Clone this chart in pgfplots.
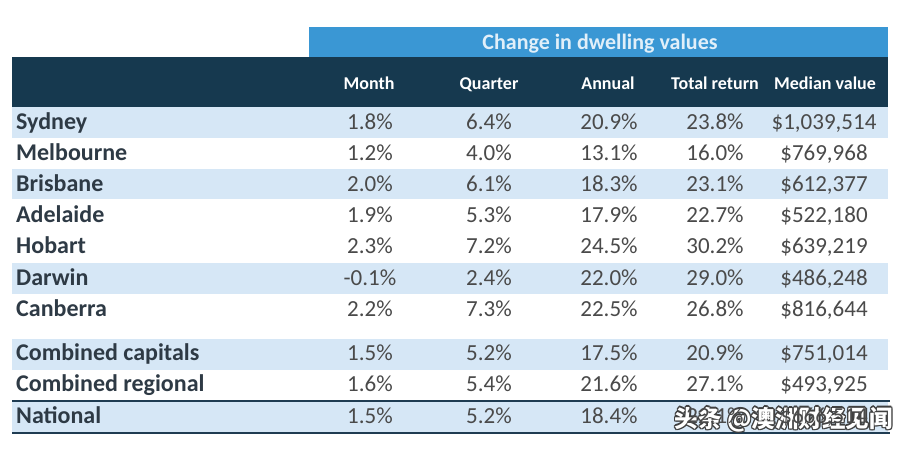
\documentclass[border=0pt]{standalone}
\usepackage{pgfplots}
\usepackage{pgfplotstable}
\pgfplotsset{compat=1.18}
\usepackage{fontspec}
\setmainfont{Carlito}
\newfontfamily\cjk{Noto Sans CJK SC}
\definecolor{banner}{HTML}{3A97D4}
\definecolor{header}{HTML}{16394F}
\definecolor{band}{HTML}{D6E7F6}
\definecolor{namec}{HTML}{2E3A45}
\definecolor{valc}{HTML}{4A4A4A}
\definecolor{rule}{HTML}{1F3C52}

\pgfplotstableread[col sep=semicolon]{
name;y;month;quarter;annual;total;median
Sydney;122;1.8;6.4;20.9;23.8;1,039,514
Melbourne;153;1.2;4.0;13.1;16.0;769,968
Brisbane;184;2.0;6.1;18.3;23.1;612,377
Adelaide;215;1.9;5.3;17.9;22.7;522,180
Hobart;246;2.3;7.2;24.5;30.2;639,219
Darwin;278;-0.1;2.4;22.0;29.0;486,248
Canberra;309;2.2;7.3;22.5;26.8;816,644
Combined capitals;353;1.5;5.2;17.5;20.9;751,014
Combined regional;384;1.6;5.4;21.6;27.1;493,925
National;416;1.5;5.2;18.4;22.1;666,514
}\data

\newcommand{\wm}{头条 @澳洲财经见闻}
\tikzset{wmk/.style={font=\cjk\bfseries\fontsize{23.5}{26}\selectfont, anchor=base east, inner sep=0pt}}

\begin{document}
\begin{tikzpicture}
\begin{axis}[
  width=902pt, height=450pt, scale only axis,
  xmin=0, xmax=902, ymin=0, ymax=450, y dir=reverse,
  enlargelimits=false, hide axis,
  /pgf/number format/assume math mode=true,
  txt/.style={only marks, mark=none, nodes near coords,
    every node near coord/.append style={anchor=base, inner sep=0pt}},
  pct/.style={txt, point meta=explicit,
    nodes near coords={\pgfmathprintnumber[fixed,fixed zerofill,precision=1]{\pgfplotspointmeta}\%},
    every node near coord/.append style={yshift=-7.5pt, font=\fontsize{23}{26}\selectfont, text=valc}},
]
% background
\addplot[fill=white, draw=none] coordinates {(0,0) (902,0) (902,450) (0,450)};
% banner and header
\addplot[fill=banner, draw=none] coordinates {(309,27) (888,27) (888,57) (309,57)};
\addplot[fill=header, draw=none] coordinates {(12,57) (888,57) (888,106.5) (12,106.5)};
% row bands
\addplot[fill=band, draw=none] coordinates {(12,107) (888,107) (888,137.5) (12,137.5)};
\addplot[fill=band, draw=none] coordinates {(12,168.5) (888,168.5) (888,199) (12,199)};
\addplot[fill=band, draw=none] coordinates {(12,263) (888,263) (888,293.5) (12,293.5)};
\addplot[fill=band, draw=none] coordinates {(12,339) (888,339) (888,369.5) (12,369.5)};
\addplot[fill=band, draw=none] coordinates {(12,401) (888,401) (888,432) (12,432)};
% rules
\addplot[draw=rule, line width=2pt] coordinates {(12,401) (890,401)};
\addplot[draw=rule, line width=2pt] coordinates {(12,432.5) (890,432.5)};
% banner title
\addplot[txt, point meta=explicit symbolic,
  every node near coord/.append style={yshift=-7pt, font=\bfseries\fontsize{22}{26}\selectfont, text=white!85!banner}]
  coordinates {(600,42) [Change in dwelling values]};
% column headers
\addplot[txt, point meta=explicit symbolic,
  every node near coord/.append style={yshift=-6pt, font=\bfseries\fontsize{18}{21}\selectfont, text=white}]
  coordinates {(369,83) [Month] (489,83) [Quarter] (608,83) [Annual] (715,83) [Total return] (825,83) [Median value]};
% row names
\addplot[txt, point meta=explicit symbolic,
  every node near coord/.append style={anchor=base west, yshift=-7.5pt, font=\bfseries\fontsize{24}{27}\selectfont, text=namec}]
  table[x expr=16, y=y, meta=name] {\data};
% values
\addplot[pct] table[x expr=370, y=y, meta=month] {\data};
\addplot[pct] table[x expr=489, y=y, meta=quarter] {\data};
\addplot[pct] table[x expr=609, y=y, meta=annual] {\data};
\addplot[pct] table[x expr=715, y=y, meta=total] {\data};
\addplot[txt, point meta=explicit symbolic, nodes near coords={\$\pgfplotspointmeta},
  every node near coord/.append style={yshift=-7.5pt, font=\fontsize{23}{26}\selectfont, text=valc}]
  table[x expr=824, y=y, meta=median] {\data};
% watermark
\node[wmk, text=black!75] at ([xshift=-1pt,yshift=-1pt]axis cs:893,427) {\wm};
\node[wmk, text=black!75] at ([xshift=-1pt,yshift=1pt]axis cs:893,427) {\wm};
\node[wmk, text=black!75] at ([xshift=1pt,yshift=-1pt]axis cs:893,427) {\wm};
\node[wmk, text=black!75] at ([xshift=1pt,yshift=1pt]axis cs:893,427) {\wm};
\node[wmk, text=black!75] at ([xshift=-1.2pt]axis cs:893,427) {\wm};
\node[wmk, text=black!75] at ([xshift=1.2pt]axis cs:893,427) {\wm};
\node[wmk, text=black!75] at ([yshift=-1.2pt]axis cs:893,427) {\wm};
\node[wmk, text=black!75] at ([yshift=1.2pt]axis cs:893,427) {\wm};
\node[wmk, text=white] at (axis cs:893,427) {\wm};
\end{axis}
\end{tikzpicture}
\end{document}
